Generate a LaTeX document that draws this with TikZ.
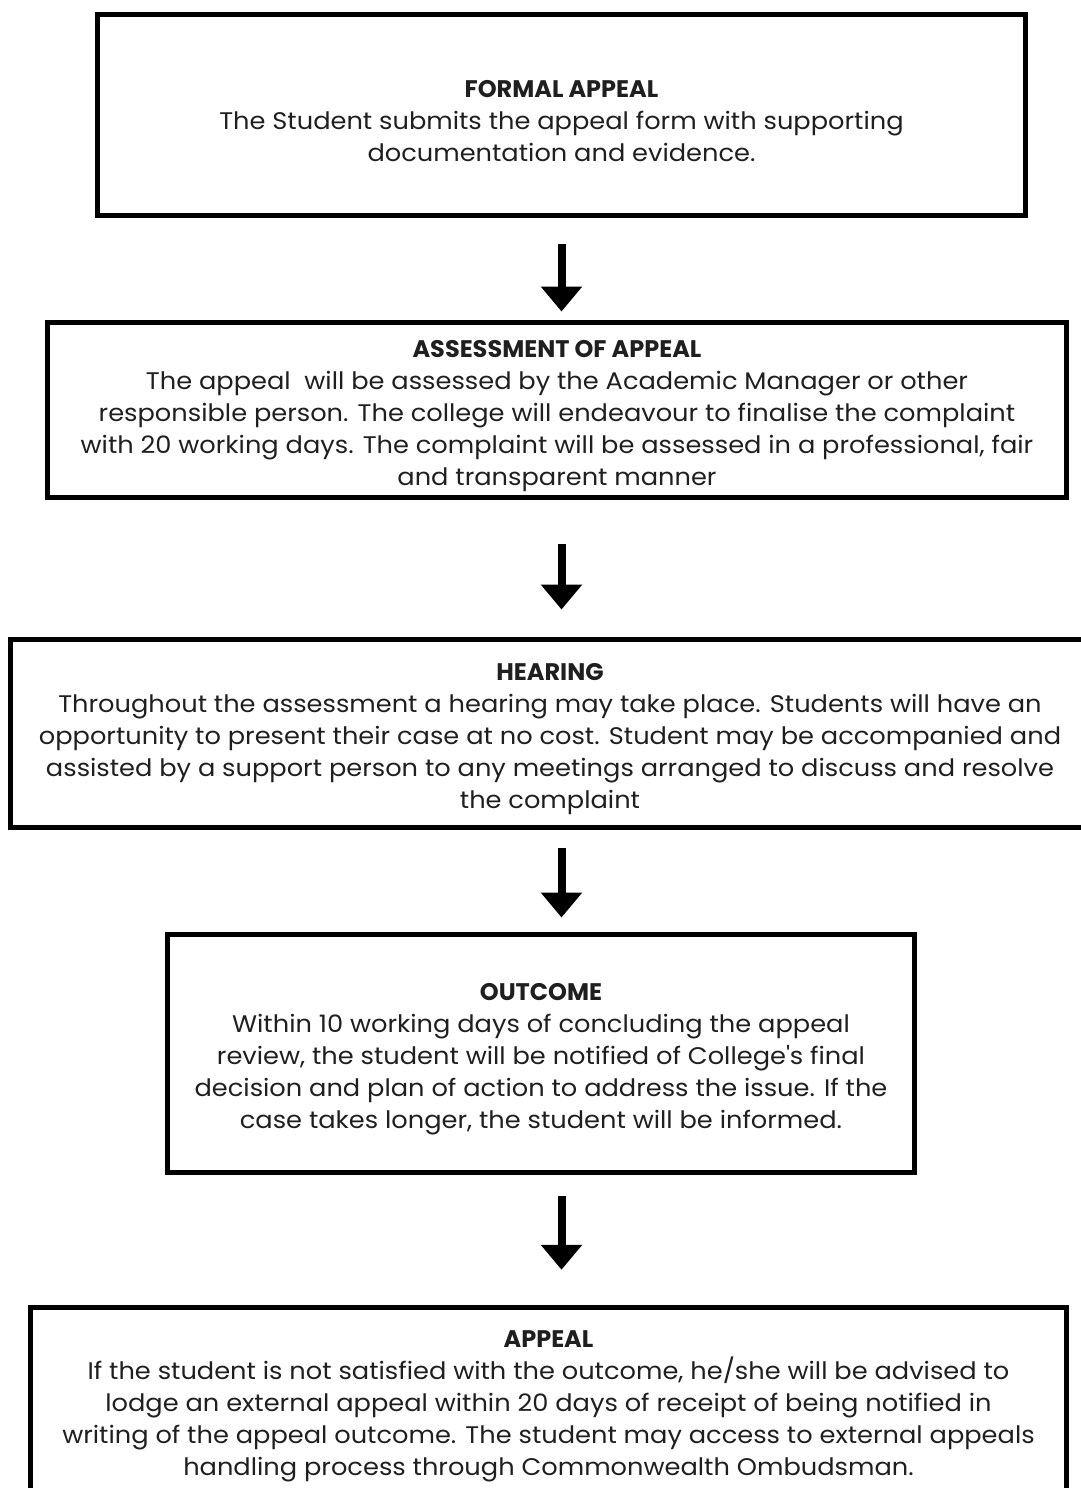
\documentclass[tikz,border=0pt]{standalone}
\usepackage{fontspec}
\setmainfont{Poppins}[UprightFeatures={FakeStretch=1.07}]
\usetikzlibrary{arrows.meta}

\newcommand{\steptitle}[1]{\rule{0pt}{14.5pt}\textbf{#1}}

\begin{document}
\begin{tikzpicture}[
  x=0.5pt, y=-0.5pt,
  stepbox/.style={rectangle, draw, line width=2.5pt, inner sep=0pt, align=center,
    text=black!88, font=\fontsize{12}{16}\selectfont},
  flow/.style={-{Triangle[width=20pt,length=12.5pt]}, line width=4pt}
]
\useasboundingbox (0,0) rectangle (1081,1488);

\node[stepbox, minimum width=464pt, minimum height=100.5pt] (formal) at (561.5,115)
  {\steptitle{FORMAL APPEAL}\\The Student submits the appeal form with supporting\\documentation and evidence.};
\node[stepbox, minimum width=509.5pt, minimum height=87.5pt] (assess) at (557,410)
  {\steptitle{ASSESSMENT OF APPEAL}\\The appeal~ will be assessed by the Academic Manager or other\\responsible person. The college will endeavour to finalise the complaint\\with 20 working days. The complaint will be assessed in a professional, fair\\and transparent manner};
\node[stepbox, minimum width=540pt, minimum height=94pt] (hearing) at (550,733.5)
  {\steptitle{HEARING}\\Throughout the assessment a hearing may take place. Students will have an\\opportunity to present their case at no cost. Student may be accompanied and\\assisted by a support person to any meetings arranged to discuss and resolve\\the complaint};
\node[stepbox, minimum width=373.5pt, minimum height=119pt] (outcome) at (541,1053.5)
  {\steptitle{OUTCOME}\\Within 10 working days of concluding the appeal\\review, the student will be notified of College\textquotesingle s final\\decision and plan of action to address the issue. If the\\case takes longer, the student will be informed.};
\node[stepbox, minimum width=518pt, minimum height=92pt] (appeal) at (548.5,1399.75)
  {\steptitle{APPEAL}\\If the student is not satisfied with the outcome, he/she will be advised to\\lodge an external appeal within 20 days of receipt of being notified in\\writing of the appeal outcome. The student may access to external appeals\\handling process through Commonwealth Ombudsman.};

\draw[flow, shorten <=12.75pt, shorten >=4.25pt] (formal.south) -- (formal.south |- assess.north);
\draw[flow, shorten <=21.75pt, shorten >=13.75pt] (assess.south -| formal.south) -- (hearing.north -| formal.south);
\draw[flow, shorten <=8.75pt, shorten >=7.25pt] (hearing.south -| formal.south) -- (outcome.north -| formal.south);
\draw[flow, shorten <=10.25pt, shorten >=17.75pt] (outcome.south -| formal.south) -- (appeal.north -| formal.south);
\end{tikzpicture}
\end{document}
